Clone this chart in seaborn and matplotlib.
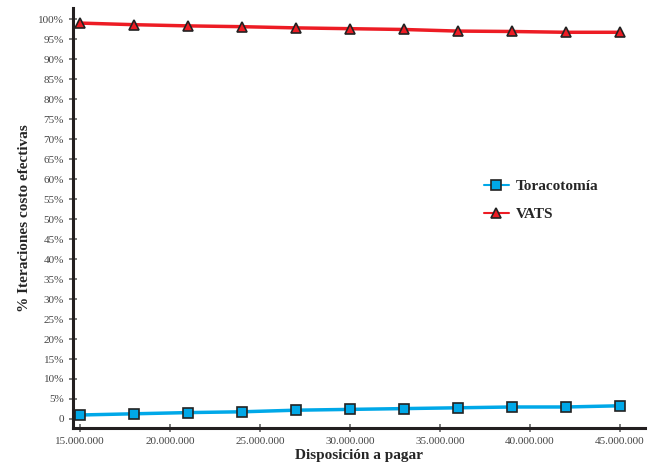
import pandas as pd
import seaborn as sns
import matplotlib.pyplot as plt
from matplotlib.ticker import FuncFormatter

# Data
disposicion = [15e6, 18e6, 21e6, 24e6, 27e6, 30e6, 33e6, 36e6, 39e6, 42e6, 45e6]
toracotomia = [1.0, 1.3, 1.6, 1.8, 2.2, 2.4, 2.6, 2.8, 3.0, 3.0, 3.3]
vats = [99.0, 98.6, 98.3, 98.1, 97.8, 97.6, 97.4, 97.0, 96.9, 96.7, 96.7]
series = ['Toracotomía', 'VATS']

df = pd.DataFrame({
    'x': disposicion * 2,
    'y': toracotomia + vats,
    'serie': [series[0]] * len(disposicion) + [series[1]] * len(disposicion),
})

sns.set_style('ticks')
plt.rcParams['font.family'] = ['Liberation Serif', 'DejaVu Serif']

fig = plt.figure(figsize=(6.49, 4.65), dpi=100)
ax = fig.add_axes([0.1125, 0.0796, 0.881, 0.903])

sns.lineplot(data=df, x='x', y='y', hue='serie', style='serie',
             palette={'Toracotomía': '#00A8E8', 'VATS': '#ED1C24'},
             markers={'Toracotomía': 's', 'VATS': '^'}, dashes=False,
             linewidth=2.5, markersize=7.5, markeredgecolor='#222222',
             markeredgewidth=1.2, ax=ax)

ax.set_xlim(14.6e6, 46.4e6)
ax.set_ylim(-2.25, 102.75)
ax.set_xticks([15e6, 20e6, 25e6, 30e6, 35e6, 40e6, 45e6])
ax.xaxis.set_major_formatter(FuncFormatter(lambda v, p: f'{int(v):,}'.replace(',', '.')))
ax.set_yticks(range(0, 101, 5))
ax.yaxis.set_major_formatter(FuncFormatter(lambda v, p: '0' if v == 0 else f'{int(v)}%'))

for s in ['top', 'right']:
    ax.spines[s].set_visible(False)
for s in ['left', 'bottom']:
    ax.spines[s].set_linewidth(2.2)
    ax.spines[s].set_color('#231F20')
ax.tick_params(direction='inout', length=6, width=1.2, color='#666666',
               labelsize=8, labelcolor='#444444')

ax.set_xlabel('Disposición a pagar', fontsize=11, fontweight='bold', labelpad=2)
ax.set_ylabel('% Iteraciones costo efectivas', fontsize=11, fontweight='bold', labelpad=5)

leg = ax.legend(loc='upper left', bbox_to_anchor=(0.695, 0.625), frameon=False,
                prop={'weight': 'bold', 'size': 11}, handlelength=1.6,
                handletextpad=0.5, labelspacing=0.95)
for h in leg.legend_handles:
    h.set_linewidth(1.5)

fig.savefig('out.png', dpi=100)
